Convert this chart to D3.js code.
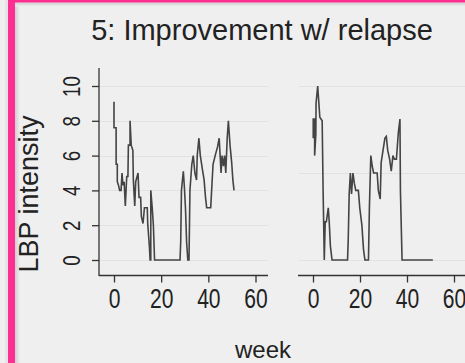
<!DOCTYPE html>
<html>
<head>
<meta charset="utf-8">
<script src="https://cdn.jsdelivr.net/npm/d3@7"></script>
<style>
  html, body { margin: 0; padding: 0; background: #efefef; }
  svg { display: block; }
  text { font-family: "Liberation Sans", Arial, sans-serif; fill: #222; }
</style>
</head>
<body>
<svg id="chart" width="465" height="363"></svg>
<script>
// Patient panel A: weekly LBP intensity trace (week, intensity) vertices
const weeksA = [0, 0, 0.9, 0.9, 1.4, 1.4, 1.9, 2.4, 3.0, 3.4, 3.8, 4.3, 4.8, 5.4, 5.9, 6.1, 6.8, 6.8, 7.3, 8.0,
  8.2, 8.8, 9.2, 10.2, 10.6, 11.3, 11.6, 12.3, 12.9, 14.1, 14.3, 15.0, 15.3, 15.6, 15.6, 16.2, 16.7, 17.2, 28.0, 28.3,
  28.6, 29.4, 29.8, 30.3, 30.8, 31.3, 31.8, 32.2, 33.0, 33.6, 34.3, 35.0, 35.3, 36.0, 36.6, 37.5, 38.2, 38.8, 39.3, 41.0,
  41.4, 42.0, 42.9, 43.9, 44.6, 45.0, 45.4, 45.8, 46.4, 46.9, 47.4, 48.0, 48.5, 49.2, 49.9, 50.4, 50.9];
const intensityA = [9.1, 7.6, 7.6, 5.5, 5.5, 4.5, 4.3, 4.0, 4.0, 5.0, 4.3, 4.5, 3.1, 4.8, 4.8, 6.6, 6.6, 8.0, 6.6, 6.3,
  4.6, 3.1, 4.5, 5.0, 3.6, 3.6, 2.5, 2.1, 3.0, 3.0, 2.1, 0.8, 0, 0, 4.0, 3.0, 2.0, 0, 0, 1.1,
  4.0, 5.1, 4.3, 3.0, 1.0, 0, 0, 4.0, 5.5, 6.0, 5.0, 4.6, 6.0, 7.0, 6.0, 5.2, 4.6, 3.6, 3.0, 3.0,
  4.0, 5.5, 6.0, 6.5, 7.0, 6.0, 5.0, 6.0, 5.4, 6.0, 5.0, 7.0, 8.0, 6.6, 5.6, 4.6, 4.0];

// Patient panel B
const weeksB = [0.1, 0.1, 0.7, 0.7, 1.2, 1.3, 2.0, 2.5, 2.9, 3.9, 4.3, 4.8, 5.2, 5.7, 6.5, 6.9, 7.4, 8.1, 14.7, 15.0,
  15.4, 15.9, 16.4, 17.0, 17.6, 18.2, 19.3, 19.9, 20.8, 21.5, 22.1, 23.6, 24.0, 24.6, 25.2, 25.8, 27.3, 27.8, 28.6, 29.0,
  29.8, 30.6, 31.2, 31.8, 32.6, 33.3, 34.0, 34.6, 35.5, 36.3, 37.0, 37.2, 37.9, 51.0];
const intensityB = [7.0, 8.1, 8.1, 6.0, 7.2, 9.0, 10.0, 9.0, 8.2, 8.0, 4.0, 0, 2.2, 2.2, 3.0, 2.2, 0.8, 0, 0, 1.2,
  3.8, 5.0, 3.8, 5.0, 4.4, 4.0, 4.0, 3.0, 2.0, 0.6, 0, 0, 3.0, 6.0, 5.4, 5.0, 5.0, 4.0, 3.5, 5.6,
  6.3, 7.0, 7.1, 6.3, 5.8, 5.1, 6.0, 5.8, 5.8, 7.3, 8.1, 4.0, 0, 0];

const xTicks = [0, 20, 40, 60];
const yTicks = [0, 2, 4, 6, 8, 10];
const gridA = [0, 2, 4, 6, 8, 10];
const gridB = [0, 5, 10];
const titleText = "5: Improvement w/ relapse";
const xTitle = "week";
const yTitle = "LBP intensity";

const svg = d3.select("#chart");
const W = 465, H = 363;

// background + framing border
svg.append("rect").attr("width", W).attr("height", H).attr("fill", "#efefef");
const defs = svg.append("defs");
const gL = defs.append("linearGradient").attr("id", "shL").attr("x1", 0).attr("x2", 1).attr("y1", 0).attr("y2", 0);
gL.append("stop").attr("offset", 0).attr("stop-color", "#cfcfcf");
gL.append("stop").attr("offset", 1).attr("stop-color", "#efefef");
const gT = defs.append("linearGradient").attr("id", "shT").attr("x1", 0).attr("x2", 0).attr("y1", 0).attr("y2", 1);
gT.append("stop").attr("offset", 0).attr("stop-color", "#cfcfcf");
gT.append("stop").attr("offset", 1).attr("stop-color", "#efefef");
svg.append("rect").attr("x", 15).attr("y", 0).attr("width", 5).attr("height", H).attr("fill", "url(#shL)");
svg.append("rect").attr("x", 15).attr("y", 2.5).attr("width", W).attr("height", 4).attr("fill", "url(#shT)");
svg.append("rect").attr("x", 5).attr("y", 0).attr("width", 3).attr("height", H).attr("fill", "#e4e4e4");
svg.append("rect").attr("x", 8).attr("y", 0).attr("width", 7).attr("height", H).attr("fill", "#ff2e93");
svg.append("rect").attr("x", 8).attr("y", 0).attr("width", W).attr("height", 2.5).attr("fill", "#ff2e93");

// scales
const y = d3.scaleLinear().domain([0, 10]).range([260, 86]);
const panels = [
  { x: d3.scaleLinear().domain([0, 60]).range([114, 255.5]), left: 99, right: 268, weeks: weeksA, vals: intensityA, grid: gridA, yAxis: true },
  { x: d3.scaleLinear().domain([0, 60]).range([313, 454]), left: 298, right: 467, weeks: weeksB, vals: intensityB, grid: gridB, yAxis: false }
];
const axisY = 275.5;
const narrow = 0.78; // condensed numerals on the tick labels

panels.forEach(p => {
  const g = svg.append("g");
  // horizontal reference lines
  g.selectAll("line.grid").data(p.grid).join("line")
    .attr("x1", p.left + 1).attr("x2", p.right)
    .attr("y1", d => Math.round(y(d)) + 0.5).attr("y2", d => Math.round(y(d)) + 0.5)
    .attr("stroke", "#e2e2e2").attr("stroke-width", 1.2);

  // intensity trace
  const pts = p.weeks.map((w, i) => [w, p.vals[i]]);
  const line = d3.line().x(d => p.x(d[0])).y(d => y(d[1]));
  g.append("path").datum(pts).attr("d", line)
    .attr("fill", "none").attr("stroke", "#444").attr("stroke-width", 1.6)
    .attr("stroke-linejoin", "miter");

  // x axis
  const ax = g.append("g").attr("transform", `translate(0,${axisY})`)
    .call(d3.axisBottom(p.x).tickValues(xTicks).tickSize(7).tickPadding(6).tickSizeOuter(0));
  ax.select(".domain").remove();
  ax.selectAll(".tick line").attr("stroke", "#333").attr("stroke-width", 1.3);
  ax.selectAll(".tick text").attr("font-size", 27).attr("fill", "#222").attr("dy", "0.71em")
    .attr("transform", `scale(${narrow},1)`);
  g.append("line").attr("x1", p.left).attr("x2", p.right).attr("y1", axisY).attr("y2", axisY)
    .attr("stroke", "#333").attr("stroke-width", 1.3);

  if (p.yAxis) {
    const ay = g.append("g").attr("transform", `translate(${p.left},0)`)
      .call(d3.axisLeft(y).tickValues(yTicks).tickSize(7).tickSizeOuter(0).tickFormat(d3.format("d")));
    ay.select(".domain").remove();
    ay.selectAll(".tick line").attr("stroke", "#333").attr("stroke-width", 1.3);
    ay.selectAll(".tick text")
      .attr("font-size", 24).attr("fill", "#222")
      .attr("x", null).attr("dy", null).attr("text-anchor", "middle")
      .attr("transform", `translate(-19,0) rotate(-90) scale(${narrow},1)`);
    g.append("line").attr("x1", p.left).attr("x2", p.left).attr("y1", 68).attr("y2", axisY + 0.6)
      .attr("stroke", "#333").attr("stroke-width", 1.3);
  }
});

// titles
svg.append("text").attr("x", 262).attr("y", 40).attr("text-anchor", "middle")
  .attr("font-size", 29).text(titleText);
svg.append("text").attr("x", 263).attr("y", 358).attr("text-anchor", "middle")
  .attr("font-size", 24).text(xTitle);
svg.append("text").attr("transform", "translate(38,194) rotate(-90)").attr("text-anchor", "middle")
  .attr("font-size", 27).text(yTitle);
</script>
</body>
</html>
